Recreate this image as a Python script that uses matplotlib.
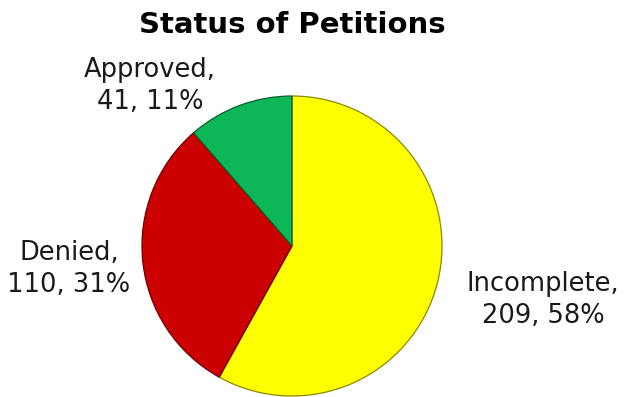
import matplotlib
matplotlib.use("Agg")
import matplotlib.pyplot as plt

# данные
categories = ["Incomplete", "Denied", "Approved"]
counts = [209, 110, 41]
colors = ["#FFFF00", "#CC0000", "#0DB757"]
edge_colors = ["#8A8A00", "#6A0000", "#06602C"]

total = sum(counts)
pcts = [round(c * 100 / total) for c in counts]

fig = plt.figure(figsize=(6.33, 3.97), dpi=100)
ax = fig.add_axes([0, 0, 1, 1])

wedges, _ = ax.pie(counts, colors=colors, startangle=90, counterclock=False,
                   center=(292, 151), radius=150, frame=True)
for w, ec in zip(wedges, edge_colors):
    w.set_edgecolor(ec)
    w.set_linewidth(0.9)
ax.set_xlim(0, 633)
ax.set_ylim(0, 397)
ax.axis("off")

# подписи
label_pos = [(543, 97), (69, 128), (150, 311)]
for name, c, p, (x, y) in zip(categories, counts, pcts, label_pos):
    ax.text(x, y, f"{name},\n{c}, {p}%", ha="center", va="center",
            fontsize=18.5, color="#1a1a1a", linespacing=1.32)

ax.text(292, 372, "Status of Petitions", ha="center", va="center",
        fontsize=21, fontweight="bold", color="black")

fig.savefig("out.png", dpi=100)
